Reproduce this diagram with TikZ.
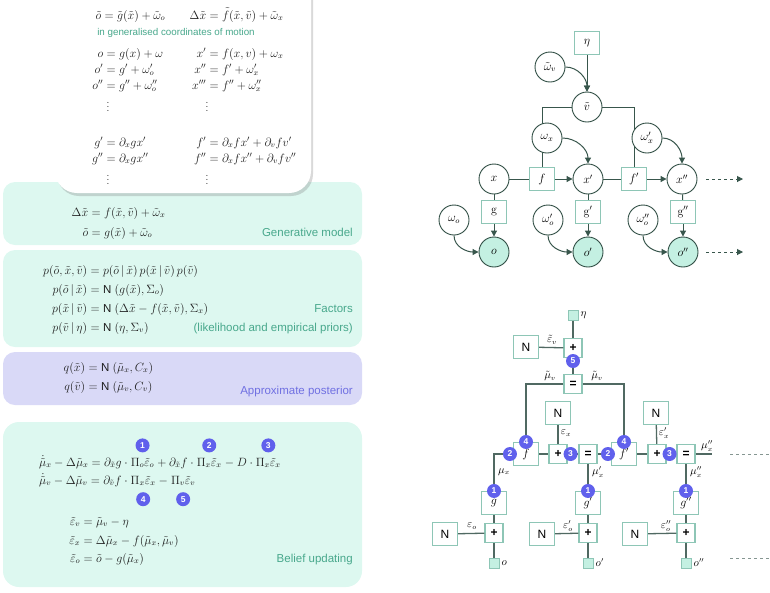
\documentclass[tikz,border=0pt]{standalone}
\usepackage{amsmath}
\usepackage{fontspec}
\newfontfamily\labelfont{Liberation Sans}
\usetikzlibrary{positioning,arrows.meta,shadows,backgrounds}

\definecolor{mint}{RGB}{221,248,240}
\definecolor{lavender}{RGB}{217,217,247}
\definecolor{tealtext}{RGB}{72,168,140}
\definecolor{violettext}{RGB}{112,112,226}
\definecolor{numcol}{RGB}{96,96,236}
\definecolor{nodeline}{RGB}{48,78,68}
\definecolor{boxline}{RGB}{142,198,182}
\definecolor{linkcol}{RGB}{56,86,76}
\definecolor{wirecol}{RGB}{80,105,98}
\definecolor{obsfill}{RGB}{196,240,226}
\definecolor{eqcol}{RGB}{30,30,30}

% left hand side of an equation, right aligned in a box of fixed width
\newcommand{\lhs}[2]{\makebox[#1][r]{$#2$}}
\newcommand{\gaussN}{\mbox{\labelfont N}\;}

\tikzset{
  eq/.style={anchor=base west, inner sep=0pt, text=eqcol, font=\fontsize{11.5}{13}\selectfont},
  sidelabel/.style={anchor=base east, inner sep=0pt, font=\labelfont\fontsize{11.5}{13}\selectfont},
  var/.style={circle, draw=nodeline, fill=white, line width=0.9pt, minimum size=30pt, inner sep=0pt, font=\fontsize{12}{14}\selectfont},
  obs/.style={var, fill=obsfill},
  fac/.style={rectangle, draw=boxline, fill=white, line width=1.1pt, minimum width=25pt, minimum height=23pt, inner sep=0pt, font=\fontsize{12}{14}\selectfont},
  opbox/.style={fac, minimum width=18pt, minimum height=19pt, font=\labelfont\bfseries\fontsize{12}{14}\selectfont},
  nbox/.style={fac, font=\labelfont\fontsize{12}{14}\selectfont},
  datasq/.style={rectangle, draw=boxline, fill=obsfill, line width=1pt, minimum size=10pt, inner sep=0pt},
  num/.style={circle, fill=numcol, text=white, minimum size=14pt, inner sep=0pt, font=\labelfont\bfseries\fontsize{8.5}{9}\selectfont},
  gmlink/.style={draw=linkcol, line width=1pt},
  fgwire/.style={draw=wirecol, line width=1.3pt},
  msg/.style={inner sep=1pt, font=\fontsize{10.5}{12}\selectfont},
  >={Triangle[length=6pt,width=6pt]}
}

\begin{document}
\begin{tikzpicture}[x=1pt,y=-1pt]
  \useasboundingbox (0,0) rectangle (770,592);
  \clip (0,0) rectangle (770,592);

  % Panels
  \fill[mint, rounded corners=12pt] (3,182) rectangle (362,245);
  \fill[mint, rounded corners=12pt] (3,250) rectangle (362,347);
  \fill[lavender, rounded corners=12pt] (3,352) rectangle (362,405);
  \fill[mint, rounded corners=16pt] (3,422) rectangle (362,587);
  \fill[white, rounded corners=22pt, drop shadow={shadow xshift=2pt, shadow yshift=-3pt, opacity=0.3}] (55,-30) rectangle (311,193);

  % Equations of motion
  \node[eq] (eqw1) at (81,19) {\lhs{20pt}{\tilde o}$\;=\tilde g(\tilde x)+\tilde\omega_o$};
  \node[eq] (eqw2) at (186,19) {\lhs{20pt}{\Delta\tilde x}$\;=\tilde f(\tilde x,\tilde v)+\tilde\omega_x$};
  \node[text=tealtext, font=\labelfont\fontsize{9.8}{11}\selectfont] (gencoord) at (176,33) {in generalised coordinates of motion};
  \node[eq] (eqw3) at (83,57) {\lhs{20pt}{o}$\;=g(x)+\omega$};
  \node[eq] (eqw4) at (186,57) {\lhs{20pt}{x'}$\;=f(x,v)+\omega_x$};
  \node[eq] (eqw5) at (83,73) {\lhs{20pt}{o'}$\;=g'+\omega'_o$};
  \node[eq] (eqw6) at (186,73) {\lhs{20pt}{x''}$\;=f'+\omega'_x$};
  \node[eq] (eqw7) at (83,89) {\lhs{20pt}{o''}$\;=g''+\omega''_o$};
  \node[eq] (eqw8) at (186,89) {\lhs{20pt}{x'''}$\;=f''+\omega''_x$};
  \node[text=eqcol] (dotw1) at (108,104) {$\vdots$};
  \node[text=eqcol] (dotw2) at (207,104) {$\vdots$};
  \node[eq] (eqw9) at (83,146) {\lhs{20pt}{g'}$\;=\partial_x g x'$};
  \node[eq] (eqw10) at (186,146) {\lhs{20pt}{f'}$\;=\partial_x f x'+\partial_v f v'$};
  \node[eq] (eqw11) at (83,162) {\lhs{20pt}{g''}$\;=\partial_x g x''$};
  \node[eq] (eqw12) at (186,162) {\lhs{20pt}{f''}$\;=\partial_x f x''+\partial_v f v''$};
  \node[text=eqcol] (dotw3) at (108,177) {$\vdots$};
  \node[text=eqcol] (dotw4) at (207,177) {$\vdots$};

  % Generative model
  \node[eq] (eqg1) at (63,216) {\lhs{25pt}{\Delta\tilde x}$\;=f(\tilde x,\tilde v)+\tilde\omega_x$};
  \node[eq] (eqg2) at (63,236) {\lhs{25pt}{\tilde o}$\;=g(\tilde x)+\tilde\omega_o$};
  \node[sidelabel, text=tealtext] (genlbl) at (353,236) {Generative model};

  % Factors
  \node[eq] (eqf1) at (32,274) {\lhs{55pt}{p(\tilde o,\tilde x,\tilde v)}$\;=p(\tilde o\,|\,\tilde x)\,p(\tilde x\,|\,\tilde v)\,p(\tilde v)$};
  \node[eq] (eqf2) at (32,293) {\lhs{55pt}{p(\tilde o\,|\,\tilde x)}$\;=\gaussN(g(\tilde x),\Sigma_o)$};
  \node[eq] (eqf3) at (32,312) {\lhs{55pt}{p(\tilde x\,|\,\tilde v)}$\;=\gaussN(\Delta\tilde x-f(\tilde x,\tilde v),\Sigma_x)$};
  \node[eq] (eqf4) at (32,331) {\lhs{55pt}{p(\tilde v\,|\,\eta)}$\;=\gaussN(\eta,\Sigma_v)$};
  \node[sidelabel, text=tealtext] (faclbl) at (353,312) {Factors};
  \node[sidelabel, text=tealtext] (priorlbl) at (353,331) {(likelihood and empirical priors)};

  % Approximate posterior
  \node[eq] (eqq1) at (55,371) {\lhs{30pt}{q(\tilde x)}$\;=\gaussN(\tilde\mu_x,C_x)$};
  \node[eq] (eqq2) at (55,390) {\lhs{30pt}{q(\tilde v)}$\;=\gaussN(\tilde\mu_v,C_v)$};
  \node[sidelabel, text=violettext] (postlbl) at (353,394) {Approximate posterior};

  % Belief updating
  \node[eq] (bu1a) at (39,466) {$\dot{\tilde\mu}_x-\Delta\tilde\mu_x=\partial_{\tilde x}g\cdot{}$};
  \node[eq] (bu1b) at (bu1a.base east) {$\Pi_o\tilde\varepsilon_o$};
  \node[eq] (bu1c) at (bu1b.base east) {${}+\partial_{\tilde x}f\cdot{}$};
  \node[eq] (bu1d) at (bu1c.base east) {$\Pi_x\tilde\varepsilon_x$};
  \node[eq] (bu1e) at (bu1d.base east) {${}-D\cdot{}$};
  \node[eq] (bu1f) at (bu1e.base east) {$\Pi_x\tilde\varepsilon_x$};
  \node[eq] (bu2a) at (39,484) {$\dot{\tilde\mu}_v-\Delta\tilde\mu_v=\partial_{\tilde v}f\cdot{}$};
  \node[eq] (bu2b) at (bu2a.base east) {$\Pi_x\tilde\varepsilon_x$};
  \node[eq] (bu2c) at (bu2b.base east) {${}-{}$};
  \node[eq] (bu2d) at (bu2c.base east) {$\Pi_v\tilde\varepsilon_v$};
  \node[num, above=5pt of bu1b] (bn1) {1};
  \node[num, above=5pt of bu1d] (bn2) {2};
  \node[num, above=5pt of bu1f] (bn3) {3};
  \node[num, below=6pt of bu2b] (bn4) {4};
  \node[num, below=6pt of bu2d] (bn5) {5};
  \node[eq] (eqb1) at (62,525) {\lhs{18pt}{\tilde\varepsilon_v}$\;=\tilde\mu_v-\eta$};
  \node[eq] (eqb2) at (62,544) {\lhs{18pt}{\tilde\varepsilon_x}$\;=\Delta\tilde\mu_x-f(\tilde\mu_x,\tilde\mu_v)$};
  \node[eq] (eqb3) at (62,562) {\lhs{18pt}{\tilde\varepsilon_o}$\;=\tilde o-g(\tilde\mu_x)$};
  \node[sidelabel, text=tealtext] (beliefbl) at (353,562) {Belief updating};

  % Generative model graph
  \node[fac] (eta) at (587,43) {$\eta$};
  \node[var] (wv) at (550,67) {$\tilde\omega_v$};
  \node[var] (vt) at (587,107) {$\tilde v$};
  \node[var] (wx) at (547,138) {$\omega_x$};
  \node[var] (wxp) at (647,138) {$\omega'_x$};
  \node[var] (x0) at (494,179) {$x$};
  \node[fac] (f0) at (542,179) {$f$};
  \node[var] (x1) at (588,179) {$x'$};
  \node[fac] (f1) at (634,179) {$f'$};
  \node[var] (x2) at (682,179) {$x''$};
  \node[fac] (g0) at (494,212) {$\mathrm{g}$};
  \node[fac] (g1) at (588,212) {$\mathrm{g}'$};
  \node[fac] (g2) at (683,212) {$\mathrm{g}''$};
  \node[var] (wo0) at (454,220) {$\omega_o$};
  \node[var] (wo1) at (548,220) {$\omega'_o$};
  \node[var] (wo2) at (643,220) {$\omega''_o$};
  \node[obs] (o0) at (494,252) {$o$};
  \node[obs] (o1) at (588,252) {$o'$};
  \node[obs] (o2) at (683,252) {$o''$};
  \coordinate (xdash) at (706,179);
  \coordinate (xend) at (743,179);
  \coordinate (odash) at (706,252);
  \coordinate (oend) at (743,252);

  \begin{scope}[on background layer]
    \draw[gmlink] (vt.west) -| (f0.north);
    \draw[gmlink] (vt.east) -| (f1.north);
  \end{scope}
  \draw[gmlink,->] (eta) -- (vt);
  \draw[gmlink,->] (wv.east) to[out=0,in=90] (vt.north);
  \draw[gmlink,->] (wx.east) to[out=0,in=90] (x1.north);
  \draw[gmlink,->] (wxp.east) to[out=0,in=90] (x2.north);
  \draw[gmlink] (x0) -- (f0);
  \draw[gmlink,->] (f0) -- (x1);
  \draw[gmlink] (x1) -- (f1);
  \draw[gmlink,->] (f1) -- (x2);
  \draw[gmlink] (x0) -- (g0);
  \draw[gmlink] (x1) -- (g1);
  \draw[gmlink] (x2) -- (g2);
  \draw[gmlink,->] (g0) -- (o0);
  \draw[gmlink,->] (g1) -- (o1);
  \draw[gmlink,->] (g2) -- (o2);
  \draw[gmlink,->] (wo0.south) to[out=-90,in=180] (o0.west);
  \draw[gmlink,->] (wo1.south) to[out=-90,in=180] (o1.west);
  \draw[gmlink,->] (wo2.south) to[out=-90,in=180] (o2.west);
  \draw[gmlink,->,dashed] (xdash) -- (xend);
  \draw[gmlink,->,dashed] (odash) -- (oend);

  % Factor graph
  \node[datasq] (etasq) at (573,315) {};
  \node[msg, right=1pt of etasq] (etalbl) {$\eta$};
  \node[opbox] (plusv) at (573,348) {+};
  \node[nbox] (nv) at (526,347) {N};
  \node[opbox] (eqv) at (573,384) {=};
  \node[nbox] (nx) at (558,413) {N};
  \node[nbox] (nxp) at (656,413) {N};
  \node[fac] (fb0) at (526,454) {$f$};
  \node[opbox] (plusx) at (558,454) {+};
  \node[opbox] (eqx1) at (588,454) {=};
  \node[fac] (fb1) at (624,454) {$f'$};
  \node[opbox] (plusxp) at (657,454) {+};
  \node[opbox] (eqx2) at (686,454) {=};
  \coordinate (mu2end) at (712,454);
  \node[fac] (gb0) at (494,503) {$g$};
  \node[fac] (gb1) at (588,503) {$g'$};
  \node[fac] (gb2) at (686,503) {$g''$};
  \node[opbox] (pluso0) at (494,533) {+};
  \node[opbox] (pluso1) at (588,533) {+};
  \node[opbox] (pluso2) at (686,533) {+};
  \node[nbox] (no0) at (445,534) {N};
  \node[nbox] (no1) at (542,534) {N};
  \node[nbox] (no2) at (635,534) {N};
  \node[datasq] (osq0) at (494,563) {};
  \node[datasq] (osq1) at (588,563) {};
  \node[datasq] (osq2) at (686,563) {};
  \node[msg, right=1pt of osq0] (olbl0) {$o$};
  \node[msg, right=1pt of osq1] (olbl1) {$o'$};
  \node[msg, right=1pt of osq2] (olbl2) {$o''$};
  \coordinate (dashA1) at (730,454);
  \coordinate (dashA2) at (770,454);
  \coordinate (dashB1) at (730,558);
  \coordinate (dashB2) at (770,558);

  \draw[fgwire] (etasq) -- (plusv);
  \draw[fgwire] (nv) -- (plusv);
  \draw[fgwire] (plusv) -- (eqv);
  \draw[fgwire] (eqv.west) -| (fb0.north);
  \draw[fgwire] (eqv.east) -| (fb1.north);
  \draw[fgwire] (nx) -- (plusx);
  \draw[fgwire] (nxp) -- (plusxp);
  \draw[fgwire] (fb0) -- (plusx);
  \draw[fgwire] (plusx) -- (eqx1);
  \draw[fgwire] (eqx1) -- (fb1);
  \draw[fgwire] (fb1) -- (plusxp);
  \draw[fgwire] (plusxp) -- (eqx2);
  \draw[fgwire] (eqx2) -- (mu2end);
  \draw[fgwire] (fb0.west) -| (gb0.north);
  \draw[fgwire] (eqx1) -- (gb1);
  \draw[fgwire] (eqx2) -- (gb2);
  \draw[fgwire] (gb0) -- (pluso0);
  \draw[fgwire] (gb1) -- (pluso1);
  \draw[fgwire] (gb2) -- (pluso2);
  \draw[fgwire] (no0) -- (pluso0);
  \draw[fgwire] (no1) -- (pluso1);
  \draw[fgwire] (no2) -- (pluso2);
  \draw[fgwire] (pluso0) -- (osq0);
  \draw[fgwire] (pluso1) -- (osq1);
  \draw[fgwire] (pluso2) -- (osq2);
  \draw[wirecol!70, line width=1pt, dashed] (dashA1) -- (dashA2);
  \draw[wirecol!70, line width=1pt, dashed] (dashB1) -- (dashB2);

  % Messages
  \node[msg] (epsv) at (552,340) {$\tilde\varepsilon_v$};
  \node[msg] (muvl) at (550,376) {$\tilde\mu_v$};
  \node[msg] (muvr) at (597,376) {$\tilde\mu_v$};
  \node[msg] (epsx) at (566,433) {$\varepsilon_x$};
  \node[msg] (epsxp) at (664,433) {$\varepsilon'_x$};
  \node[msg] (mux0) at (504,472) {$\mu_x$};
  \node[msg] (mux1) at (598,472) {$\mu'_x$};
  \node[msg] (mux2) at (696,472) {$\mu''_x$};
  \node[msg] (mux2r) at (707,446) {$\mu''_x$};
  \node[msg] (epso0) at (472,526) {$\varepsilon_o$};
  \node[msg] (epso1) at (568,526) {$\varepsilon'_o$};
  \node[msg] (epso2) at (666,526) {$\varepsilon''_o$};

  % Update steps
  \node[num] (fn5) at (573,361) {5};
  \node[num] (fn4a) at (fb0.north) {4};
  \node[num] (fn4b) at (fb1.north) {4};
  \node[num] (fn2a) at ([xshift=-3pt]fb0.west) {2};
  \node[num] (fn2b) at ([xshift=-3pt]fb1.west) {2};
  \node[num] (fn3a) at ([xshift=3pt]plusx.east) {3};
  \node[num] (fn3b) at ([xshift=3pt]plusxp.east) {3};
  \node[num] (fn1a) at (gb0.north) {1};
  \node[num] (fn1b) at (gb1.north) {1};
  \node[num] (fn1c) at (gb2.north) {1};
\end{tikzpicture}
\end{document}
